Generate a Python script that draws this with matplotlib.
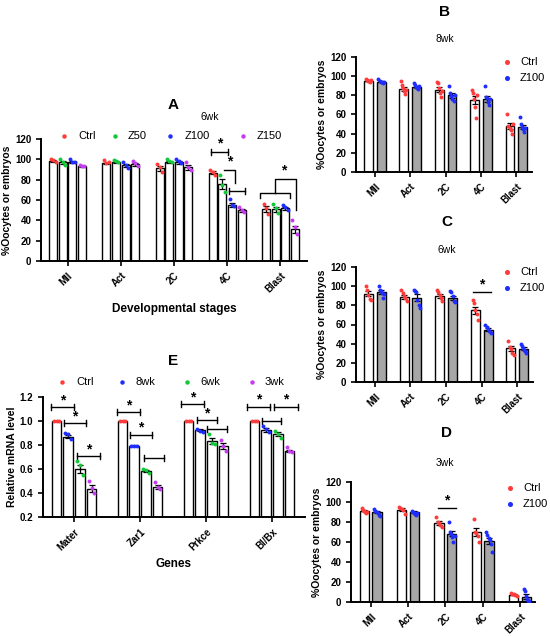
import numpy as np
import matplotlib
matplotlib.use('Agg')
import matplotlib.pyplot as plt
from matplotlib.lines import Line2D

plt.rcParams['font.family'] = ['Liberation Sans', 'DejaVu Sans']
plt.rcParams['font.weight'] = 'bold'
plt.rcParams['axes.labelweight'] = 'bold'

stages = ['MII', 'Act', '2C', '4C', 'Blast']
genes = ['Mater', 'Zar1', 'Prkce', 'Bl/Bx']

RED = '#ff3b3b'
GREEN = '#12c93a'
BLUE = '#1f2dff'
PINK = '#c63cf0'
GREY = '#a6a6a6'

# ---- panel A (6wk, four doses) ----
a_groups = ['Ctrl', 'Z50', 'Z100', 'Z150']
a_ctrl = [98, 96, 91, 87, 51]
a_z50 = [97, 97, 97, 76, 51]
a_z100 = [97, 94, 97, 55, 52]
a_z150 = [93, 95, 92, 50, 31]
a_ctrl_pts = [[100, 99, 97], [99, 96, 97], [95, 92, 88], [90, 88, 85], [56, 52, 46]]
a_z50_pts = [[100, 97, 94], [99, 98, 97], [100, 98, 97], [85, 75, 68], [56, 52, 47]]
a_z100_pts = [[100, 97, 97], [97, 94, 91], [100, 98, 96], [61, 55, 54], [55, 53, 50]]
a_z150_pts = [[94, 93, 93], [98, 96, 93], [97, 92, 90], [53, 50, 48], [40, 33, 27]]

# ---- panel B (8wk) ----
b_ctrl = [95, 87, 86, 75, 48]
b_z100 = [94, 89, 80, 76, 47]
b_ctrl_pts = [[97, 96, 95, 95, 94, 96], [95, 91, 88, 85, 81, 86], [94, 93, 88, 82, 78, 84],
              [86, 82, 76, 68, 56, 80], [60, 48, 46, 44, 40, 50]]
b_z100_pts = [[97, 95, 94, 94, 93, 94], [93, 91, 89, 88, 87, 90], [90, 82, 79, 76, 74, 80],
              [90, 78, 77, 73, 70, 76], [57, 50, 47, 45, 42, 46]]

# ---- panel C (6wk) ----
c_ctrl = [92, 89, 90, 75, 35]
c_z100 = [94, 88, 88, 54.5, 34.5]
c_ctrl_pts = [[100, 96, 91, 87, 86], [96, 93, 90, 88, 85], [96, 94, 91, 88, 85],
              [86, 82, 75, 71, 65], [43, 37, 34, 30, 28]]
c_z100_pts = [[100, 96, 95, 93, 88, 92], [96, 95, 94, 86, 80, 77], [95, 94, 90, 85, 84],
              [59, 57, 55, 53, 51], [40, 38, 36, 33, 32, 30]]

# ---- panel D (3wk) ----
d_ctrl = [91.5, 92.5, 79, 70, 7.5]
d_z100 = [90, 90, 68.5, 61, 5.5]
d_ctrl_pts = [[94, 92, 91, 90, 89, 90], [95, 94, 93, 92, 88], [85, 80, 79, 77, 75],
              [83, 70, 69, 66, 60], [9, 8, 8, 7, 6]]
d_z100_pts = [[93, 91, 90, 89, 87, 86], [91, 90, 89, 88, 87, 89], [80, 70, 68, 65, 60, 66],
              [70, 67, 64, 62, 58, 50], [13, 11, 6, 3, 1, 1]]

# ---- panel E (relative mRNA) ----
e_groups = ['Ctrl', '8wk', '6wk', '3wk']
e_ctrl = [1.0, 1.0, 1.0, 1.0]
e_8wk = [0.87, 0.795, 0.925, 0.925]
e_6wk = [0.60, 0.585, 0.835, 0.89]
e_3wk = [0.435, 0.45, 0.79, 0.75]
e_ctrl_pts = [[1, 1, 1]] * 4
e_8wk_pts = [[0.90, 0.89, 0.85], [0.795, 0.79, 0.79], [0.93, 0.92, 0.91], [0.96, 0.93, 0.91]]
e_6wk_pts = [[0.67, 0.63, 0.55], [0.60, 0.59, 0.57], [0.89, 0.82, 0.81], [0.92, 0.89, 0.86]]
e_3wk_pts = [[0.50, 0.44, 0.40], [0.49, 0.45, 0.43], [0.84, 0.79, 0.75], [0.78, 0.75, 0.74]]

W, H = 550, 636
fig = plt.figure(figsize=(W / 100, H / 100), dpi=100)


def px(x, y):
    return x / W, 1 - y / H


def add_axes(l, t, r, b):
    x0, y1 = px(l, t)
    x1, y0 = px(r, b)
    ax = fig.add_axes([x0, y0, x1 - x0, y1 - y0])
    for s in ['top', 'right']:
        ax.spines[s].set_visible(False)
    for s in ['left', 'bottom']:
        ax.spines[s].set_linewidth(1.4)
    ax.tick_params(width=1.2, length=3.5, labelsize=7)
    return ax


def draw_bars(ax, means, pts, offs, width, face, color):
    x = np.arange(len(means)) + offs
    sem = [np.std(p, ddof=1) / np.sqrt(len(p)) for p in pts]
    ax.bar(x, means, width, color=face, edgecolor='black', linewidth=1.0, zorder=2)
    ax.errorbar(x, means, yerr=sem, fmt='none', ecolor='black', elinewidth=0.9,
                capsize=2, capthick=0.9, zorder=3)
    for xi, p in zip(x, pts):
        n = len(p)
        jit = np.linspace(-width * 0.3, width * 0.3, n)
        ax.scatter(xi + jit, p, s=8, color=color, zorder=4, linewidths=0)


def bracket(ax, x1, x2, y, cap, star=None, sy=None):
    ax.plot([x1, x2], [y, y], color='black', lw=1.0, clip_on=False)
    ax.plot([x1, x1], [y - cap, y + cap], color='black', lw=1.0, clip_on=False)
    ax.plot([x2, x2], [y - cap, y + cap], color='black', lw=1.0, clip_on=False)
    if star:
        ax.text((x1 + x2) / 2, sy, '*', ha='center', va='center', fontsize=10, clip_on=False)


def stage_ticks(ax, labels):
    ax.set_xticks(range(len(labels)))
    ax.set_xticklabels(labels, rotation=45, ha='right', rotation_mode='anchor', fontsize=7)


def legend_col(items, x, y0, dy, fs=8):
    for i, (lab, c) in enumerate(items):
        fig.add_artist(Line2D([px(x, 0)[0]], [px(0, y0 + i * dy)[1]], marker='o', markersize=2.6,
                              color=c, linestyle='none'))
        fig.text(*px(x + 13, y0 + i * dy), lab, fontsize=fs, weight='normal', va='center')


def legend_row(items, xs, y, fs=8):
    for (lab, c), (xm, xt) in zip(items, xs):
        fig.add_artist(Line2D([px(xm, 0)[0]], [px(0, y)[1]], marker='o', markersize=2.2,
                              color=c, linestyle='none'))
        fig.text(*px(xt, y), lab, fontsize=fs, weight='normal', va='center')


# ================= A =================
axA = add_axes(41, 139, 307, 261)
offA = [-0.27, -0.09, 0.09, 0.27]
for m, p, o, c in zip([a_ctrl, a_z50, a_z100, a_z150],
                      [a_ctrl_pts, a_z50_pts, a_z100_pts, a_z150_pts], offA,
                      [RED, GREEN, BLUE, PINK]):
    draw_bars(axA, m, p, o, 0.15, 'white', c)
axA.set_xlim(-0.5, 4.5)
axA.set_ylim(0, 120)
axA.set_yticks(range(0, 121, 20))
stage_ticks(axA, stages)
axA.set_ylabel('%Oocytes or embryos', fontsize=7.5, labelpad=2)
axA.set_xlabel('Developmental stages', fontsize=8.5, labelpad=6)
bracket(axA, 2.70, 3.02, 107, 3, '*', 116)
axA.plot([2.94, 3.15, 3.15], [90, 90, 77], color='black', lw=1.0)
axA.text(3.04, 98, '*', ha='center', va='center', fontsize=10)
bracket(axA, 3.04, 3.34, 69, 3)
axA.plot([3.62, 3.62, 4.18, 4.18], [62, 67, 67, 62], color='black', lw=1.0)
axA.plot([3.89, 3.89, 4.30, 4.30], [67, 81, 81, 50], color='black', lw=1.0)
axA.text(4.07, 89, '*', ha='center', va='center', fontsize=10)
fig.text(*px(173, 105), 'A', fontsize=11, ha='center', va='center')
fig.text(*px(210, 117), '6wk', fontsize=7.5, weight='normal', ha='center', va='center')
legend_row(list(zip(a_groups, [RED, GREEN, BLUE, PINK])),
           [(64, 78), (115, 128), (170, 185), (243, 257)], 136)


def two_group(ax, ctrl, z, ctrl_pts, z_pts, off):
    draw_bars(ax, ctrl, ctrl_pts, -off, 0.25, 'white', RED)
    draw_bars(ax, z, z_pts, off, 0.25, GREY, BLUE)
    ax.set_ylim(0, 120)
    ax.set_yticks(range(0, 121, 20))
    stage_ticks(ax, stages)
    ax.set_ylabel('%Oocytes or embryos', fontsize=7.5, labelpad=2)


# ================= B =================
axB = add_axes(356, 57, 532, 172)
two_group(axB, b_ctrl, b_z100, b_ctrl_pts, b_z100_pts, 0.18)
axB.set_xlim(-0.53, 4.44)
fig.text(*px(445, 12), 'B', fontsize=11, ha='center', va='center')
fig.text(*px(445, 39), '8wk', fontsize=7.5, weight='normal', ha='center', va='center')
legend_col([('Ctrl', RED), ('Z100', BLUE)], 507, 62, 16)

# ================= C =================
axC = add_axes(356, 267, 533, 382)
two_group(axC, c_ctrl, c_z100, c_ctrl_pts, c_z100_pts, 0.18)
axC.set_xlim(-0.53, 4.44)
axC.plot([2.75, 3.26], [94, 94], color='black', lw=1.0)
axC.text(3.0, 102, '*', ha='center', va='center', fontsize=10)
fig.text(*px(447, 222), 'C', fontsize=11, ha='center', va='center')
fig.text(*px(447, 250), '6wk', fontsize=7.5, weight='normal', ha='center', va='center')
legend_col([('Ctrl', RED), ('Z100', BLUE)], 507, 272, 16)

# ================= D =================
axD = add_axes(351, 482, 535, 602)
two_group(axD, d_ctrl, d_z100, d_ctrl_pts, d_z100_pts, 0.17)
axD.set_xlim(-0.53, 4.4)
axD.plot([1.79, 2.29], [94, 94], color='black', lw=1.0)
axD.text(2.04, 102, '*', ha='center', va='center', fontsize=10)
fig.text(*px(447, 433), 'D', fontsize=11, ha='center', va='center')
fig.text(*px(445, 463), '3wk', fontsize=7.5, weight='normal', ha='center', va='center')
legend_col([('Ctrl', RED), ('Z100', BLUE)], 510, 488, 16)

# ================= E =================
axE = add_axes(43, 397, 305, 517)
offE = [-0.265, -0.088, 0.088, 0.265]
for m, p, o, c in zip([e_ctrl, e_8wk, e_6wk, e_3wk],
                      [e_ctrl_pts, e_8wk_pts, e_6wk_pts, e_3wk_pts], offE,
                      [RED, BLUE, GREEN, PINK]):
    draw_bars(axE, m, p, o, 0.145, 'white', c)
axE.set_xlim(-0.47, 3.5)
axE.set_ylim(0.2, 1.2)
axE.set_yticks(np.arange(0.2, 1.21, 0.2))
axE.set_yticklabels(['0.2', '0.4', '0.6', '0.8', '1.0', '1.2'])
stage_ticks(axE, genes)
axE.set_ylabel('Relative mRNA level', fontsize=7.5, labelpad=2)
axE.set_xlabel('Genes', fontsize=8.5, labelpad=4)
c = 0.025
bracket(axE, -0.35, 0.0, 1.117, c, '*', 1.175)
bracket(axE, -0.15, 0.18, 0.986, c, '*', 1.04)
bracket(axE, 0.045, 0.39, 0.706, c, '*', 0.765)
bracket(axE, 0.65, 1.0, 1.075, c, '*', 1.13)
bracket(axE, 0.85, 1.18, 0.886, c, '*', 0.945)
bracket(axE, 1.06, 1.36, 0.694, c)
bracket(axE, 1.62, 1.97, 1.144, c, '*', 1.2)
bracket(axE, 1.86, 2.17, 1.006, c, '*', 1.06)
bracket(axE, 2.02, 2.32, 0.936, c)
bracket(axE, 2.62, 2.97, 1.117, c, '*', 1.18)
bracket(axE, 3.03, 3.39, 1.117, c, '*', 1.18)
bracket(axE, 2.85, 3.14, 1.0, c)
fig.text(*px(173, 361), 'E', fontsize=11, ha='center', va='center')
legend_row(list(zip(e_groups, [RED, BLUE, GREEN, PINK])),
           [(62, 76), (122, 136), (187, 200), (252, 265)], 382)

fig.savefig('out.png', dpi=100)
